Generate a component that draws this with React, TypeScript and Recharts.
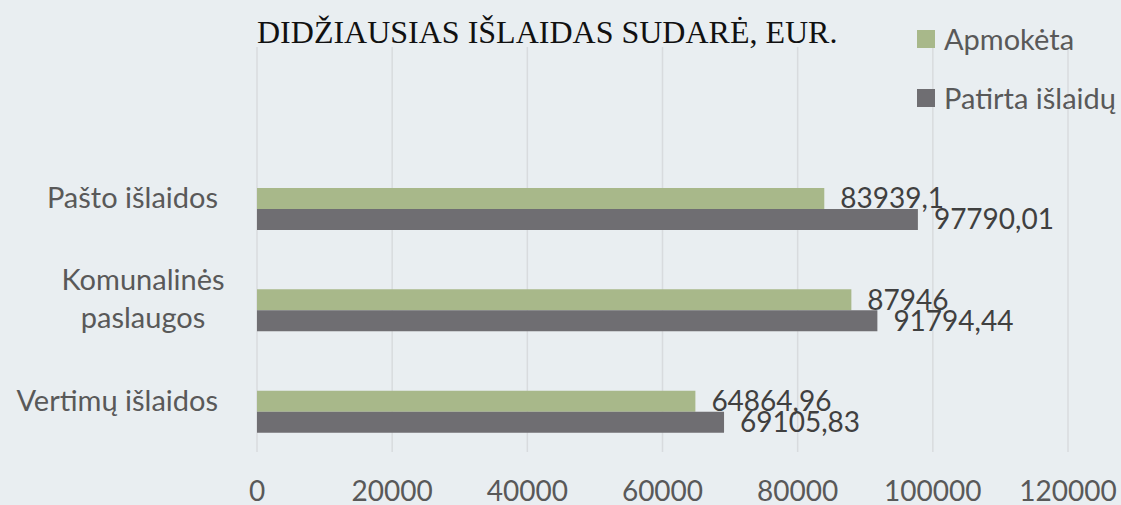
import React from 'react';
import { BarChart, Bar, XAxis, YAxis, CartesianGrid, Legend, LabelList } from 'recharts';

const categories = ['Pašto išlaidos', 'Komunalinės paslaugos', 'Vertimų išlaidos'];
const apmoketa = [83939.1, 87946, 64864.96];
const patirta = [97790.01, 91794.44, 69105.83];
const xTicks = [0, 20000, 40000, 60000, 80000, 100000, 120000];
const seriesNames = ['Apmokėta', 'Patirta išlaidų'];
const seriesColors = ['#a8b88a', '#6f6e72'];
const title = 'DIDŽIAUSIAS IŠLAIDAS SUDARĖ, EUR.';

const data = categories.map((c, i) => ({ name: c, apmoketa: apmoketa[i], patirta: patirta[i] }));

const FONT = 'Lato, "Open Sans", sans-serif';
const BG = '#e9eef1';

const fmt = (v: any) => String(v).replace('.', ',');

const CategoryTick = (props: any) => {
  const { x, y, payload } = props;
  const label: string = payload.value;
  if (label.length > 16) {
    const idx = label.indexOf(' ');
    const l1 = label.slice(0, idx);
    const l2 = label.slice(idx + 1);
    return (
      <text x={x - 75} y={y} textAnchor="middle" fill="#595959" fontSize={29} fontFamily={FONT}>
        <tspan x={x - 75} y={y - 19} dy="0.3em">{l1}</tspan>
        <tspan x={x - 75} y={y + 19} dy="0.3em">{l2}</tspan>
      </text>
    );
  }
  return (
    <text x={x} y={y} dy="0.33em" textAnchor="end" fill="#595959" fontSize={29} fontFamily={FONT}>
      {label}
    </text>
  );
};

const renderLegend = (props: any) => {
  const items = (props.payload || []).filter((p: any) => p.type !== 'none' && p.value);
  return (
    <div>
      {items.map((p: any) => (
        <div key={p.value} style={{ display: 'flex', alignItems: 'center', height: 59, whiteSpace: 'nowrap' }}>
          <span style={{ display: 'inline-block', width: 18, height: 18, background: p.color, marginRight: 9 }} />
          <span style={{ fontFamily: FONT, fontSize: 29, color: '#595959' }}>{p.value}</span>
        </div>
      ))}
    </div>
  );
};

export default function App() {
  return (
    <div style={{ position: 'absolute', left: 0, top: 0, width: 1121, height: 505, background: BG, overflow: 'hidden' }}>
      <div
        style={{
          position: 'absolute',
          left: 257,
          top: 16,
          fontFamily: '"Liberation Serif", "Times New Roman", serif',
          fontSize: 32,
          lineHeight: '32px',
          color: '#111',
          whiteSpace: 'nowrap',
          zIndex: 2,
        }}
      >
        {title}
      </div>
      <BarChart
        width={1121}
        height={505}
        data={data}
        layout="vertical"
        margin={{ top: 47, right: 53, bottom: 0, left: 0 }}
        barSize={21}
        barGap={0}
      >
        <CartesianGrid horizontal={false} stroke="#d8dbde" strokeWidth={1.5} />
        <XAxis
          type="number"
          domain={[0, 120000]}
          ticks={xTicks}
          axisLine={false}
          tickLine={false}
          tickSize={0}
          tickMargin={29}
          height={53}
          tick={{ fill: '#595959', fontSize: 28, fontFamily: FONT }}
          interval={0}
        />
        <YAxis
          type="category"
          dataKey="name"
          width={257}
          axisLine={false}
          tickLine={false}
          tickSize={0}
          tickMargin={39}
          padding={{ top: 101, bottom: 0 }}
          tick={<CategoryTick />}
          interval={0}
        />
        <Legend
          layout="horizontal"
          align="center"
          verticalAlign="middle"
          content={renderLegend}
          wrapperStyle={{ position: 'absolute', left: 917, top: 9, width: 260 }}
        />
        <Bar dataKey="reserved" legendType="none" fill="transparent" isAnimationActive={false} />
        <Bar dataKey="apmoketa" name={seriesNames[0]} fill={seriesColors[0]} isAnimationActive={false}>
          <LabelList dataKey="apmoketa" position="right" offset={16} formatter={fmt} fill="#404040" fontSize={28} fontFamily={FONT} />
        </Bar>
        <Bar dataKey="patirta" name={seriesNames[1]} fill={seriesColors[1]} isAnimationActive={false}>
          <LabelList dataKey="patirta" position="right" offset={16} formatter={fmt} fill="#404040" fontSize={28} fontFamily={FONT} />
        </Bar>
      </BarChart>
    </div>
  );
}
